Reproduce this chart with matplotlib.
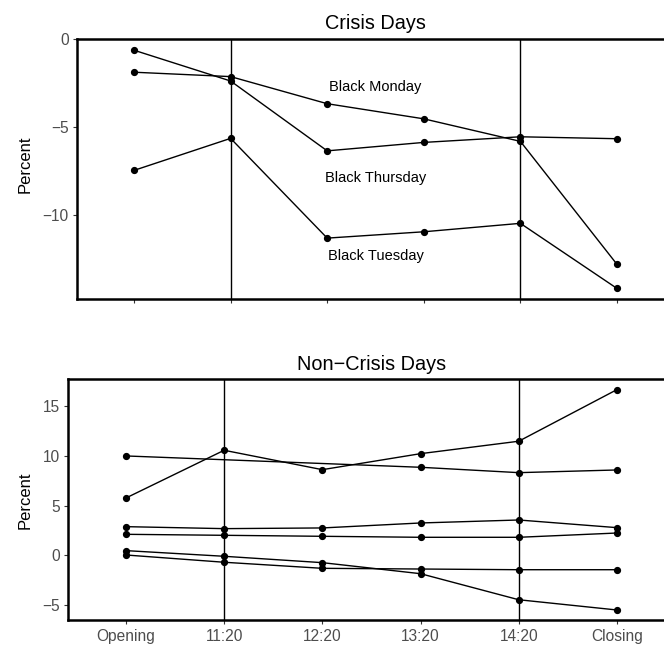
import numpy as np
import matplotlib
matplotlib.use("Agg")
import matplotlib.pyplot as plt

plt.rcParams['font.family'] = ['Liberation Sans', 'DejaVu Sans']

times = ['Opening', '11:20', '12:20', '13:20', '14:20', 'Closing']

# crisis days (percent change from previous close)
black_monday = [-1.88, -2.13, -3.67, -4.53, -5.81, -12.8]
black_thursday = [-0.63, -2.38, -6.35, -5.87, -5.55, -5.66]
black_tuesday = [-7.46, -5.64, -11.31, -10.95, -10.47, -14.17]
crisis_names = ['Black Monday', 'Black Thursday', 'Black Tuesday']
label_y = [-2.7, -7.9, -12.3]

# non-crisis days (nan = no observation)
nc1 = [9.99, np.nan, np.nan, 8.85, 8.31, 8.58]
nc2 = [5.76, 10.56, 8.61, 10.22, 11.47, 16.66]
nc3 = [2.88, 2.68, 2.75, 3.25, 3.55, 2.78]
nc4 = [2.11, 2.01, 1.91, 1.81, 1.81, 2.24]
nc5 = [0.47, -0.10, -0.74, -1.85, -4.47, -5.50]
nc6 = [0.03, -0.70, -1.31, -1.38, -1.45, -1.45]

x = np.arange(1, len(times) + 1)

fig = plt.figure(figsize=(6.64, 6.48), dpi=100)
ax1 = fig.add_axes([0.116, 0.5386, 0.899, 0.401])
ax2 = fig.add_axes([0.1024, 0.0427, 0.914, 0.372])

tick_grey = '#4d4d4d'


def style(ax):
    for s in ['left', 'bottom', 'top', 'right']:
        ax.spines[s].set_linewidth(1.8)
        ax.spines[s].set_color('black')
    ax.tick_params(length=3, width=0.8, color='#333333', labelcolor=tick_grey,
                   labelsize=11.2, pad=3)
    ax.set_xlim(0.41, 6.59)
    ax.set_xticks(x)
    for v in [2, 5]:
        ax.axvline(v, color='black', lw=1.0, zorder=1)


def series(ax, vals):
    vals = np.array(vals, dtype=float)
    ok = ~np.isnan(vals)
    ax.plot(x[ok], vals[ok], color='black', lw=1.0, marker='o', ms=4.2, zorder=3)


# top panel
style(ax1)
for s in [black_monday, black_thursday, black_tuesday]:
    series(ax1, s)
for name, yy in zip(crisis_names, label_y):
    ax1.text(3.5, yy, name, ha='center', va='center', fontsize=10.5)
ax1.set_ylim(-14.77, 0)
ax1.set_yticks([0, -5, -10])
ax1.set_yticklabels(['0', '\u22125', '\u221210'])
ax1.set_xticklabels([])
ax1.set_title('Crisis Days', fontsize=14.3, pad=7)
ax1.set_ylabel('Percent', fontsize=12)
ax1.yaxis.set_label_coords(-0.075, 0.52)

# bottom panel
style(ax2)
for s in [nc1, nc2, nc3, nc4, nc5, nc6]:
    series(ax2, s)
ax2.set_ylim(-6.54, 17.7)
ax2.set_yticks([-5, 0, 5, 10, 15])
ax2.set_yticklabels(['\u22125', '0', '5', '10', '15'])
ax2.set_xticklabels(times)
ax2.set_title('Non\u2212Crisis Days', fontsize=14.3, pad=7)
ax2.set_ylabel('Percent', fontsize=12)
ax2.yaxis.set_label_coords(-0.059, 0.5)

fig.savefig('out.png', dpi=100)
